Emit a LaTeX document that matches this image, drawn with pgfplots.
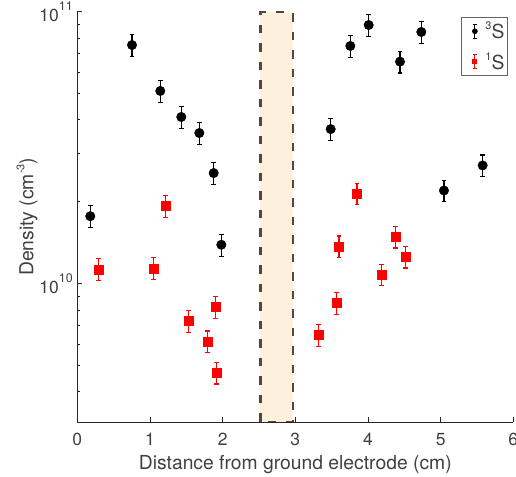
\documentclass[border=0pt]{standalone}
\usepackage{fontspec}
\setmainfont{TeX Gyre Heros}
\usepackage{pgfplots}
\pgfplotsset{compat=1.18}
\usepackage{pgfplotstable}

\definecolor{axisgray}{RGB}{38,38,38}
\definecolor{textgray}{RGB}{64,64,64}
\definecolor{legendedge}{RGB}{100,100,100}
\definecolor{bandfill}{RGB}{253,240,221}
\definecolor{banddraw}{RGB}{90,66,68}

% power-of-ten tick label in the text font
\newcommand\decade[1]{10\raisebox{11.5bp}{\fontsize{12.5bp}{12.5bp}\selectfont #1}}
\newcommand\supsmall[1]{\raisebox{9bp}{\fontsize{11bp}{11bp}\selectfont #1}}

% triplet (3S) density with error
\pgfplotstableread{
x      y        e
0.179  1.77e10  1.63e9
0.753  7.54e10  6.94e9
1.142  5.11e10  4.70e9
1.431  4.10e10  3.77e9
1.679  3.58e10  3.29e9
1.877  2.55e10  2.35e9
1.982  1.39e10  1.28e9
3.487  3.70e10  3.40e9
3.757  7.48e10  6.88e9
4.010  8.93e10  8.22e9
4.441  6.55e10  6.03e9
4.734  8.42e10  7.75e9
5.046  2.20e10  2.02e9
5.578  2.72e10  2.50e9
}\tripletdata

% singlet (1S) density with error
\pgfplotstableread{
x      y         e
0.289  1.13e10   1.04e9
1.051  1.14e10   1.05e9
1.211  1.93e10   1.78e9
1.528  7.28e9    6.70e8
1.794  6.13e9    5.64e8
1.904  8.20e9    7.54e8
1.918  4.71e9    4.33e8
3.316  6.47e9    5.95e8
3.570  8.51e9    7.83e8
3.601  1.37e10   1.26e9
3.849  2.145e10  1.97e9
4.189  1.08e10   9.90e8
4.381  1.49e10   1.37e9
4.519  1.257e10  1.16e9
}\singletdata

\begin{document}
\begin{tikzpicture}
\begin{axis}[
  at={(0,0)}, anchor=south west,
  scale only axis, width=436bp, height=410.3bp,
  xmin=0, xmax=6, ymin=3.1e9, ymax=1e11, ymode=log,
  axis x line*=bottom, axis y line*=left,
  axis line style={axisgray, line width=0.9bp},
  tick align=inside,
  major tick length=5bp, minor tick length=3bp,
  tick style={axisgray, line width=0.9bp},
  /pgf/number format/assume math mode=true,
  xtick={0,1,2,3,4,5,6},
  ytick={1e10,1e11}, yticklabels={\decade{10},\decade{11}},
  minor ytick={4e9,5e9,6e9,7e9,8e9,9e9,2e10,3e10,4e10,5e10,6e10,7e10,8e10,9e10},
  ticklabel style={font=\fontsize{17.5bp}{20bp}\selectfont, text=textgray},
  xticklabel style={anchor=base, yshift=-24bp, inner sep=0pt},
  yticklabel style={anchor=east, xshift=-4.3bp, inner sep=0pt},
  label style={font=\fontsize{19.3bp}{22bp}\selectfont, text=textgray},
  xlabel={Distance from ground electrode (cm)},
  ylabel={Density (cm\supsmall{-3})},
  xlabel style={at={([yshift=-47.3bp]rel axis cs:0.5,0)}, anchor=base, inner sep=0pt},
  ylabel style={at={([xshift=-44bp]rel axis cs:0,0.5)}, anchor=base, inner sep=0pt},
  legend style={at={(0.9885,0.9864)}, anchor=north east,
    draw=legendedge, line width=0.8bp, fill=white,
    font=\fontsize{19.3bp}{22bp}\selectfont, text=textgray,
    inner xsep=2bp, inner ysep=3bp, row sep=9bp,
    nodes={inner sep=1.5bp}},
  legend cell align=left,
]

% electrode gap
\addplot[forget plot, fill=bandfill, draw=banddraw, line width=2.2bp,
  dash pattern=on 8.5bp off 10bp]
  coordinates {(2.52,3.1e9) (2.52,1e11) (2.965,1e11) (2.965,3.1e9)} -- cycle;

\addplot[black, only marks, mark=*, mark size=4.8bp,
  mark options={line width=0.3bp},
  error bars/.cd, y dir=both, y explicit,
  error bar style={line width=1.2bp},
  error mark options={rotate=90, mark size=2.4bp, line width=1.2bp},
  /pgfplots/.cd,
  legend image code/.code={
    \path[draw=none, fill=none] (0bp,0bp) -- (20bp,0bp);
    \draw[black, line width=1.2bp] (11bp,-7bp) -- (11bp,7bp)
      (9bp,-7bp) -- (13bp,-7bp) (9bp,7bp) -- (13bp,7bp);
    \fill[black] (11bp,0bp) circle (2.4bp);
  }]
  table[x=x, y=y, y error=e] {\tripletdata};

\addplot[red, only marks, mark=square*, mark size=4.5bp,
  mark options={line width=0.3bp},
  error bars/.cd, y dir=both, y explicit,
  error bar style={line width=1.2bp},
  error mark options={rotate=90, mark size=2.4bp, line width=1.2bp},
  /pgfplots/.cd,
  legend image code/.code={
    \path[draw=none, fill=none] (0bp,0bp) -- (20bp,0bp);
    \draw[red, line width=1.2bp] (11bp,-7bp) -- (11bp,7bp)
      (9bp,-7bp) -- (13bp,-7bp) (9bp,7bp) -- (13bp,7bp);
    \fill[red] (9bp,-2.2bp) rectangle (13bp,2.2bp);
  }]
  table[x=x, y=y, y error=e] {\singletdata};

\legend{\supsmall{3}S, \supsmall{1}S}
\end{axis}
\pgfresetboundingbox
\useasboundingbox (-77.3bp,-55bp) rectangle (438.7bp,422bp);
\end{tikzpicture}
\end{document}
